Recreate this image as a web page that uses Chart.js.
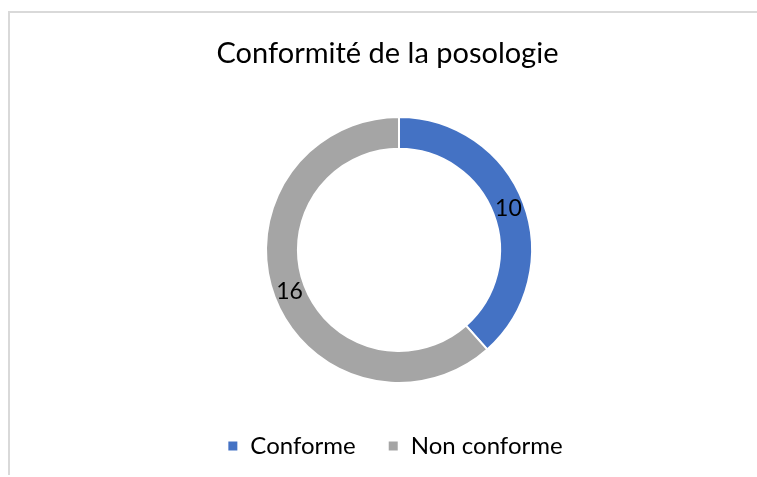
<!DOCTYPE html>
<html>
<head>
<meta charset="utf-8">
<script src="https://cdn.jsdelivr.net/npm/chart.js@4/dist/chart.umd.min.js"></script>
<style>
  html, body { margin: 0; padding: 0; background: #ffffff; }
  #wrap { width: 757px; height: 477px; position: relative; }
</style>
</head>
<body>
<div id="wrap"><canvas id="c" width="757" height="477"></canvas></div>
<script>
const categories = ["Conforme", "Non conforme"];
const values = [10, 16];
const colors = ["#4472C4", "#A5A5A5"];
const titleText = "Conformité de la posologie";

const FONT = "Lato, 'Open Sans', sans-serif";

const frame = {
  id: 'frame',
  beforeDraw(chart) {
    const ctx = chart.ctx;
    ctx.save();
    ctx.fillStyle = '#ffffff';
    ctx.fillRect(0, 0, chart.width, chart.height);
    ctx.fillStyle = '#d9d9d9';
    ctx.fillRect(8, 11, chart.width - 8, 2);
    ctx.fillRect(8, 11, 2, 464);
    ctx.restore();
  }
};

const nudge = {
  id: 'nudge',
  afterLayout(chart) {
    const t = chart.titleBlock;
    if (t) { t.left -= 11.5; t.right -= 11.5; }
    const l = chart.legend;
    if (l) { l.left -= 4; l.right -= 4; l.top -= 9; l.bottom -= 9; }
  }
};

const arcLabels = {
  id: 'arcLabels',
  afterDatasetsDraw(chart) {
    const ctx = chart.ctx;
    const meta = chart.getDatasetMeta(0);
    ctx.save();
    ctx.font = "23px " + FONT;
    ctx.fillStyle = '#000000';
    ctx.textAlign = 'center';
    ctx.textBaseline = 'middle';
    meta.data.forEach((arc, i) => {
      const p = arc.tooltipPosition();
      ctx.fillText(String(chart.data.datasets[0].data[i]), p.x, p.y);
    });
    ctx.restore();
  }
};

new Chart(document.getElementById('c'), {
  type: 'doughnut',
  data: {
    labels: categories,
    datasets: [{
      data: values,
      backgroundColor: colors,
      borderColor: '#ffffff',
      borderWidth: 2,
      radius: 133
    }]
  },
  options: {
    responsive: false,
    animation: false,
    devicePixelRatio: 1,
    cutout: '76%',
    layout: { padding: { left: 41, right: 0, top: 0, bottom: 0 } },
    plugins: {
      title: {
        display: true,
        text: titleText,
        color: '#000000',
        font: { family: FONT, size: 29, weight: 'normal', lineHeight: 1.2 },
        padding: { top: 36, bottom: 18 }
      },
      legend: {
        display: true,
        position: 'bottom',
        labels: {
          color: '#000000',
          font: { family: FONT, size: 24 },
          boxWidth: 11,
          boxHeight: 11,
          padding: 32
        }
      },
      tooltip: { enabled: false }
    }
  },
  plugins: [frame, nudge, arcLabels]
});
</script>
</body>
</html>
